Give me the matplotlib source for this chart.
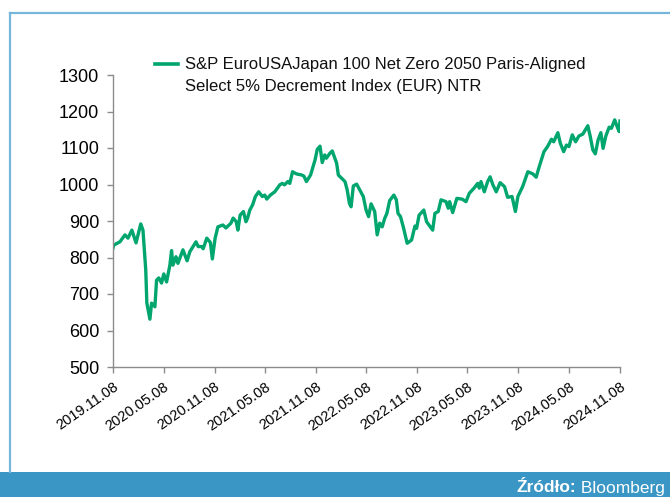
import matplotlib
matplotlib.use("Agg")
import matplotlib.pyplot as plt
from matplotlib.lines import Line2D
from matplotlib.patches import Rectangle
import pandas as pd

dates = [
    "2019-11-08", "2019-11-11", "2019-12-03", "2019-12-21", "2020-01-01", "2020-01-15",
    "2020-01-30", "2020-02-16", "2020-02-24", "2020-03-05", "2020-03-09", "2020-03-20",
    "2020-03-26", "2020-04-07", "2020-04-13", "2020-04-21", "2020-05-01", "2020-05-09",
    "2020-05-19", "2020-05-31", "2020-06-06", "2020-06-11", "2020-06-22", "2020-06-29",
    "2020-07-17", "2020-08-01", "2020-08-11", "2020-09-02", "2020-09-10", "2020-09-23",
    "2020-09-28", "2020-10-11", "2020-10-24", "2020-10-31", "2020-11-10", "2020-11-20",
    "2020-12-08", "2020-12-19", "2021-01-06", "2021-01-14", "2021-01-25", "2021-01-31",
    "2021-02-08", "2021-02-20", "2021-03-01", "2021-03-07", "2021-03-15", "2021-03-25",
    "2021-04-04", "2021-04-16", "2021-04-29", "2021-05-08", "2021-05-15", "2021-05-28",
    "2021-06-13", "2021-07-01", "2021-07-10", "2021-07-18", "2021-07-30", "2021-08-06",
    "2021-08-16", "2021-08-30", "2021-09-18", "2021-09-26", "2021-10-05", "2021-10-20",
    "2021-11-05", "2021-11-13", "2021-11-23", "2021-12-01", "2021-12-10", "2021-12-16",
    "2021-12-28", "2022-01-06", "2022-01-22", "2022-01-28", "2022-02-21", "2022-03-01",
    "2022-03-09", "2022-03-15", "2022-03-23", "2022-04-04", "2022-04-28", "2022-05-08",
    "2022-05-17", "2022-05-26", "2022-06-08", "2022-06-17", "2022-06-26", "2022-07-05",
    "2022-07-14", "2022-07-22", "2022-08-01", "2022-08-16", "2022-08-25", "2022-08-31",
    "2022-09-09", "2022-09-19", "2022-10-03", "2022-10-19", "2022-10-31", "2022-11-06",
    "2022-11-15", "2022-12-02", "2022-12-12", "2023-01-03", "2023-01-11", "2023-01-23",
    "2023-02-02", "2023-02-20", "2023-02-28", "2023-03-05", "2023-03-16", "2023-03-31",
    "2023-04-19", "2023-05-03", "2023-05-15", "2023-06-01", "2023-06-14", "2023-06-20",
    "2023-06-26", "2023-07-08", "2023-07-20", "2023-07-29", "2023-08-08", "2023-08-20",
    "2023-09-03", "2023-09-19", "2023-09-30", "2023-10-16", "2023-10-28", "2023-11-06",
    "2023-11-23", "2023-12-12", "2023-12-30", "2024-01-11", "2024-01-20", "2024-02-08",
    "2024-02-21", "2024-03-06", "2024-03-14", "2024-03-29", "2024-04-07", "2024-04-19",
    "2024-04-29", "2024-05-08", "2024-05-20", "2024-06-01", "2024-06-13", "2024-06-27",
    "2024-07-15", "2024-07-24", "2024-08-02", "2024-08-11", "2024-08-21", "2024-08-31",
    "2024-09-08", "2024-09-18", "2024-09-30", "2024-10-08", "2024-10-20", "2024-10-29",
    "2024-11-05", "2024-11-08",
]

values = [
    826, 834, 843, 862, 853, 875,
    840, 892, 875, 766, 675, 631,
    675, 665, 738, 744, 730, 755,
    733, 779, 819, 779, 802, 784,
    821, 791, 816, 843, 830, 830,
    824, 853, 841, 796, 853, 884,
    889, 881, 894, 908, 898, 875,
    916, 926, 898, 908, 930, 944,
    967, 980, 967, 971, 960, 971,
    980, 999, 1003, 999, 1008, 1003,
    1035, 1029, 1026, 1023, 1008, 1026,
    1067, 1096, 1105, 1060, 1081, 1072,
    1085, 1092, 1058, 1026, 1008, 985,
    948, 939, 996, 1001, 967, 930,
    912, 947, 926, 862, 894, 884,
    907, 921, 956, 971, 958, 921,
    912, 884, 839, 848, 886, 880,
    916, 930, 898, 875, 921, 926,
    958, 953, 935, 953, 923, 962,
    960, 953, 976, 990, 1003, 990,
    1008, 980, 1008, 1021, 999, 980,
    1005, 994, 965, 967, 926, 967,
    994, 1035, 1029, 1020, 1044, 1090,
    1104, 1124, 1117, 1142, 1113, 1090,
    1108, 1104, 1136, 1117, 1133, 1138,
    1161, 1131, 1095, 1084, 1122, 1142,
    1099, 1133, 1157, 1154, 1177, 1158,
    1145, 1174,
]

tick_labels = ["2019.11.08", "2020.05.08", "2020.11.08", "2021.05.08", "2021.11.08",
               "2022.05.08", "2022.11.08", "2023.05.08", "2023.11.08", "2024.05.08",
               "2024.11.08"]
y_ticks = [500, 600, 700, 800, 900, 1000, 1100, 1200, 1300]

series_name_1 = "S&P EuroUSAJapan 100 Net Zero 2050 Paris-Aligned"
series_name_2 = "Select 5% Decrement Index (EUR) NTR"
source_bold = "Źródło:"
source_text = " Bloomberg"

LINE_COLOR = "#00a66e"
AXIS_COLOR = "#8c8c8c"
BORDER_COLOR = "#74b7da"
BAND_COLOR = "#3a96c4"

plt.rcParams["font.family"] = ["Liberation Sans", "DejaVu Sans"]

W, H = 670, 497
fig = plt.figure(figsize=(W / 100, H / 100), dpi=100)
fig.patch.set_facecolor("white")

# frame and bottom band
fig.add_artist(Rectangle((0, 0), 1, 25 / H, transform=fig.transFigure,
                         facecolor=BAND_COLOR, edgecolor="none", zorder=0))
fig.add_artist(Line2D([9.5 / W, 9.5 / W], [25 / H, 1 - 13 / H], transform=fig.transFigure,
                      color=BORDER_COLOR, lw=1.6))
fig.add_artist(Line2D([9.5 / W, 1.0], [1 - 13 / H, 1 - 13 / H], transform=fig.transFigure,
                      color=BORDER_COLOR, lw=1.6))

ax = fig.add_axes([113 / W, 1 - 367 / H, (620 - 113) / W, (367 - 75) / H])
x = pd.to_datetime(dates)
ax.plot(x, values, color=LINE_COLOR, lw=2.4, solid_joinstyle="round")

ax.set_xlim(pd.Timestamp("2019-11-08"), pd.Timestamp("2024-11-08"))
ax.set_ylim(500, 1300)
ax.set_yticks(y_ticks)
ax.set_yticklabels([str(v) for v in y_ticks], fontsize=13)
tick_dates = pd.to_datetime([t.replace(".", "-") for t in tick_labels])
ax.set_xticks(tick_dates)
ax.set_xticklabels(tick_labels, rotation=35, ha="right", rotation_mode="anchor", fontsize=10.5)

for s in ["top", "right"]:
    ax.spines[s].set_visible(False)
for s in ["left", "bottom"]:
    ax.spines[s].set_color(AXIS_COLOR)
    ax.spines[s].set_linewidth(1.0)
ax.tick_params(axis="both", direction="out", length=4, width=1.0, color=AXIS_COLOR)
ax.tick_params(axis="y", pad=6)
ax.tick_params(axis="x", pad=5)

# legend
fig.add_artist(Line2D([155 / W, 178 / W], [1 - 64 / H, 1 - 64 / H], transform=fig.transFigure,
                      color=LINE_COLOR, lw=2.6))
fig.text(185 / W, 1 - 64 / H, series_name_1, fontsize=12, va="center", ha="left", color="#111111")
fig.text(185 / W, 1 - 86 / H, series_name_2, fontsize=12, va="center", ha="left", color="#111111")

# source
t2 = fig.text(665 / W, 1 - 488 / H, source_text, fontsize=12.5, color="white", ha="right",
              va="center", fontweight="light")
fig.canvas.draw()
bb = t2.get_window_extent()
fig.text(bb.x0 / W, 1 - 488 / H, source_bold, fontsize=12.5, color="white", ha="right",
         va="center", fontweight="bold")

fig.savefig("out.png", dpi=100)
